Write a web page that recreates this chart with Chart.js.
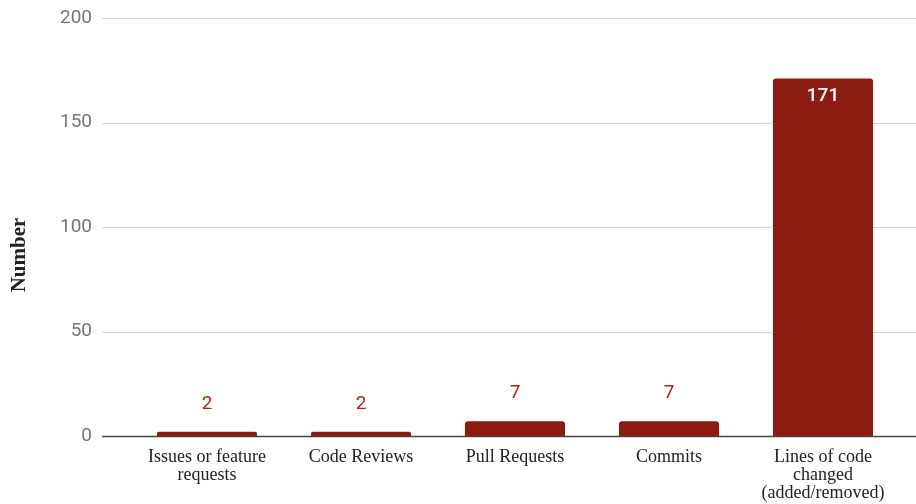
<!DOCTYPE html>
<html>
<head>
<meta charset="utf-8">
<script src="https://cdn.jsdelivr.net/npm/chart.js@4/dist/chart.umd.min.js"></script>
<style>
  html, body { margin: 0; padding: 0; background: #fff; }
</style>
</head>
<body>
<canvas id="contribChart" width="916" height="504"></canvas>
<script>
const categories = [
    ["Issues or feature", "requests"],
    "Code Reviews",
    "Pull Requests",
    "Commits",
    ["Lines of code", "changed", "(added/removed)"]
];
const counts = [2, 2, 7, 7, 171];
const yTicks = [0, 50, 100, 150, 200];
const yTitle = "Number";

const barColor = "#8b1c12";

// gridlines in the reference run past the bars area on both sides
const gridPlugin = {
    id: "wideGrid",
    beforeDatasetsDraw(chart) {
        const c = chart.ctx;
        const y = chart.scales.y;
        const left = chart.chartArea.left - 28;
        const right = chart.width;
        c.save();
        yTicks.forEach(v => {
            const py = Math.round(y.getPixelForValue(v)) + 0.5;
            c.beginPath();
            c.strokeStyle = v === 0 ? "#444444" : "#d6d6d6";
            c.lineWidth = v === 0 ? 1.5 : 1;
            c.moveTo(left, py);
            c.lineTo(right, py);
            c.stroke();
        });
        // axis title, centred on the whole canvas height like the original
        c.translate(20, chart.height / 2 + 3);
        c.rotate(-Math.PI / 2);
        c.font = "bold 21px 'Liberation Serif', serif";
        c.fillStyle = "#222222";
        c.textAlign = "center";
        c.textBaseline = "middle";
        c.fillText(yTitle, 0, 0);
        c.restore();
    }
};

const labelPlugin = {
    id: "barLabels",
    afterDatasetsDraw(chart) {
        const c = chart.ctx;
        const meta = chart.getDatasetMeta(0);
        c.save();
        c.textAlign = "center";
        c.textBaseline = "middle";
        meta.data.forEach((bar, i) => {
            const v = counts[i];
            if (v > 100) {
                c.font = "500 19px Roboto";
                c.fillStyle = "#ffffff";
                c.fillText(v, bar.x, bar.y + 18);
            } else {
                c.font = "19px Roboto";
                c.fillStyle = "#a3261b";
                c.fillText(v, bar.x, bar.y - 28);
            }
        });
        c.restore();
    }
};

const ctx = document.getElementById("contribChart").getContext("2d");

const chart = new Chart(ctx, {
    type: "bar",
    data: {
        labels: categories,
        datasets: [{
            label: yTitle,
            data: counts,
            backgroundColor: barColor,
            borderRadius: 3,
            borderSkipped: "bottom",
            categoryPercentage: 1,
            barPercentage: 0.65
        }]
    },
    options: {
        responsive: false,
        animation: false,
        layout: {
            padding: { top: 18, right: 16, left: 0, bottom: 0 }
        },
        plugins: {
            legend: { display: false },
            tooltip: { enabled: false }
        },
        scales: {
            x: {
                grid: { display: false },
                border: { display: false },
                ticks: {
                    color: "#222222",
                    padding: 4,
                    maxRotation: 0,
                    autoSkip: false,
                    font: { family: "'Liberation Serif', serif", size: 18, lineHeight: 1 }
                },
                afterFit(scale) { scale.height = 68; }
            },
            y: {
                min: 0,
                max: 200,
                afterBuildTicks(scale) {
                    scale.ticks = yTicks.map(v => ({ value: v }));
                },
                grid: { display: false },
                border: { display: false },
                ticks: {
                    color: "#757575",
                    padding: 30,
                    font: { family: "Roboto", size: 19 }
                },
                afterFit(scale) {
                    scale.width = 130;
                    scale.paddingTop = 0;
                    scale.paddingBottom = 0;
                }
            }
        }
    },
    plugins: [gridPlugin, labelPlugin]
});
</script>
</body>
</html>
